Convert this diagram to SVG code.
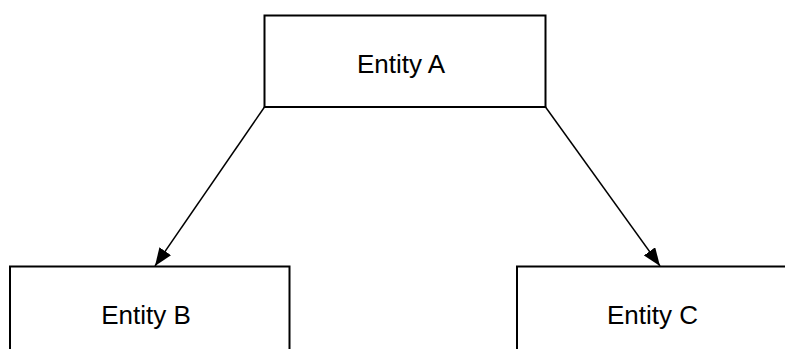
<svg xmlns="http://www.w3.org/2000/svg" width="785" height="349" viewBox="0 0 785 349">
<style>
.box{fill:#fff;stroke:#000;stroke-width:2}
.lbl{font-family:"Liberation Sans",Arial,sans-serif;font-size:26px;fill:#000;text-anchor:middle}
.edge{stroke:#000;stroke-width:1.5;fill:none}
</style>
<defs>
<marker id="arr" viewBox="0 0 18 14" refX="18" refY="7" markerWidth="18" markerHeight="14" markerUnits="userSpaceOnUse" orient="auto">
<path d="M0,0 L18,7 L0,14 Z" fill="#000"/>
</marker>
</defs>
<rect width="785" height="349" fill="#fff"/>
<g id="connectors">
<line class="edge" x1="264.5" y1="107" x2="155" y2="266" marker-end="url(#arr)"/>
<line class="edge" x1="545.5" y1="107" x2="660" y2="266" marker-end="url(#arr)"/>
</g>
<g id="entityA">
<rect class="box" x="264.5" y="15.5" width="281" height="91.5"/>
<text class="lbl" x="401" y="73">Entity A</text>
</g>
<g id="entityB">
<rect class="box" x="10" y="266.5" width="279.5" height="100"/>
<text class="lbl" x="146" y="324">Entity B</text>
</g>
<g id="entityC">
<rect class="box" x="517" y="266.5" width="279.5" height="100"/>
<text class="lbl" x="652.5" y="324">Entity C</text>
</g>
</svg>
